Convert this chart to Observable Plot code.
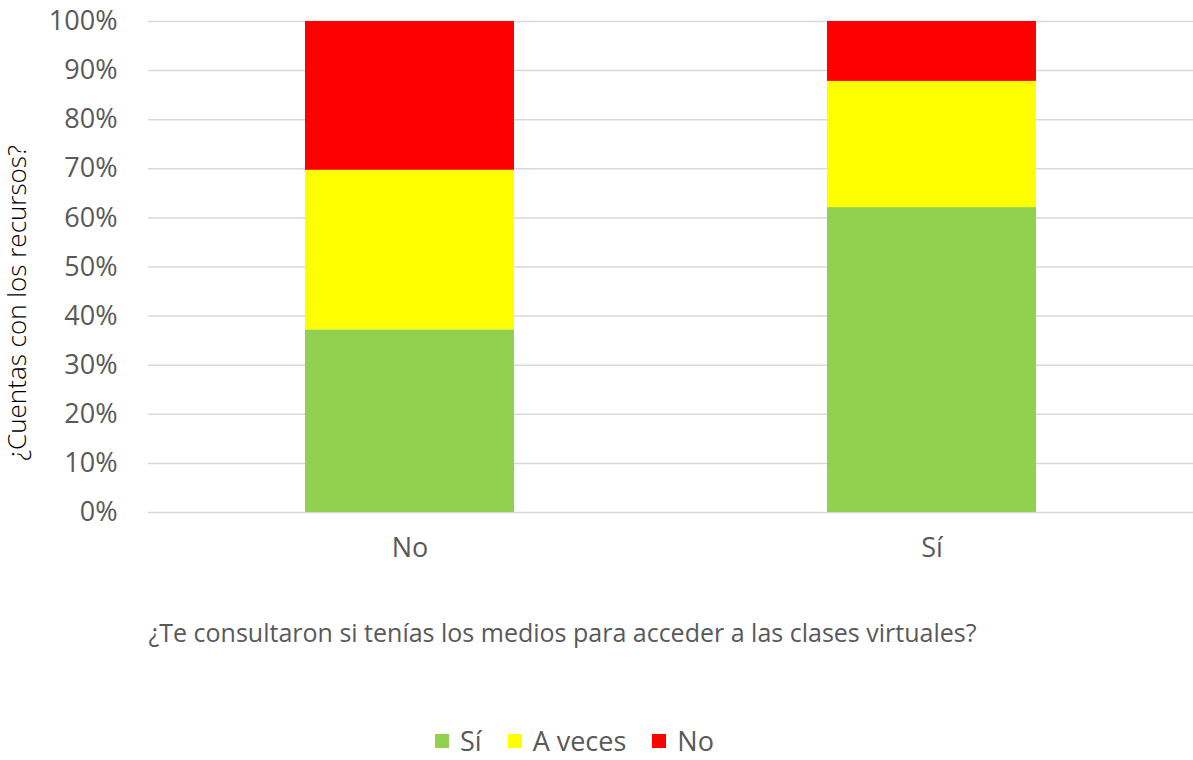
<!DOCTYPE html>
<html>
<head>
<meta charset="utf-8">
<script src="https://cdn.jsdelivr.net/npm/d3@7"></script>
<script src="https://cdn.jsdelivr.net/npm/@observablehq/plot@0.6"></script>
<style>
  html, body { margin: 0; padding: 0; background: #fff; }
  body { width: 1193px; font-family: "Open Sans", sans-serif; }
  #chart svg { display: block; }
  #legend { display: flex; justify-content: flex-start; align-items: center; padding-left: 435px; margin-top: 62px; font-size: 27px; line-height: 37px; color: #595959; }
  .item { display: flex; align-items: center; margin-right: 26px; }
  .sw { width: 14px; height: 14px; margin-right: 11px; flex: none; }
  .lbl { white-space: nowrap; }
</style>
</head>
<body>
<div id="chart"></div>
<div id="legend"></div>
<script>
const categories = ["No", "Sí"];
const responses = ["Sí", "A veces", "No"];
const siValues = [37.2, 62.1];
const aVecesValues = [32.5, 25.7];
const noValues = [30.3, 12.2];
const colors = ["#92D050", "#FFFF00", "#FF0000"];
const yTicks = [0, 10, 20, 30, 40, 50, 60, 70, 80, 90, 100];
const xTitle = "¿Te consultaron si tenías los medios para acceder a las clases virtuales?";
const yTitle = "¿Cuentas con los recursos?";

const series = [siValues, aVecesValues, noValues];
const data = [];
responses.forEach((r, i) => {
  categories.forEach((c, j) => data.push({ category: c, response: r, value: series[i][j] }));
});

const chart = Plot.plot({
  width: 1193,
  height: 660,
  marginTop: 21,
  marginBottom: 148,
  marginLeft: 148,
  marginRight: 0,
  style: { fontFamily: "Open Sans, sans-serif", background: "#fff", overflow: "visible" },
  x: { domain: categories, paddingInner: 0.6, paddingOuter: 0.3 },
  y: { domain: [0, 100] },
  color: { domain: responses, range: colors },
  marks: [
    Plot.gridY(yTicks, { stroke: "#d9d9d9", strokeOpacity: 1, strokeWidth: 1.5 }),
    Plot.barY(data, { x: "category", y: "value", fill: "response", order: responses }),
    Plot.axisY(yTicks, { tickSize: 0, tickPadding: 31, tickFormat: d => d + "%", fontSize: 27, color: "#595959", label: null }),
    Plot.axisX({ tickSize: 0, tickPadding: 25, fontSize: 27, color: "#595959", label: null }),
    Plot.text([yTitle], { text: d => d, frameAnchor: "left", rotate: -90, textAnchor: "middle", lineAnchor: "middle", dx: -131, dy: 36, fontSize: 26, fontWeight: 300, fill: "#000" }),
    Plot.text([xTitle], { text: d => d, frameAnchor: "bottom-left", textAnchor: "start", lineAnchor: "middle", dy: 121, fontSize: 25, fill: "#595959" })
  ]
});
document.getElementById("chart").appendChild(chart);

const legend = document.getElementById("legend");
responses.forEach((r, i) => {
  const item = document.createElement("div");
  item.className = "item";
  const sw = document.createElement("span");
  sw.className = "sw";
  sw.style.background = colors[i];
  const t = document.createElement("span");
  t.className = "lbl";
  t.textContent = r;
  item.appendChild(sw);
  item.appendChild(t);
  legend.appendChild(item);
});
</script>
</body>
</html>
